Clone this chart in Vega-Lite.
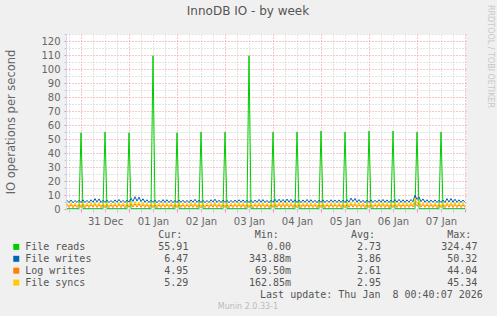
{
"$schema": "https://vega.github.io/schema/vega-lite/v6.json",
"background": "#F0F0F0",
"padding": {"left": 5, "top": 5, "right": 5, "bottom": 8},
"autosize": {"type": "pad"},
"config": {"view": {"stroke": null}, "font": "DejaVu Sans"},
"title": {"text": "RRDTOOL / TOBI OETIKER", "orient": "right", "anchor": "start", "frame": "bounds", "fontSize": 8, "fontWeight": "normal", "color": "#C8C8C8", "font": "DejaVu Sans", "offset": 3},
"bounds": "flush",
"spacing": 26,
"datasets": {
"io": [
{"t":"2025-12-30T17:00","r":0.2,"w":6.2,"l":3.1,"s":4.3},
{"t":"2025-12-30T18:00","r":0.3,"w":4.6,"l":1.0,"s":1.7},
{"t":"2025-12-30T19:00","r":0.2,"w":6.4,"l":3.3,"s":4.5},
{"t":"2025-12-30T20:00","r":0.3,"w":4.5,"l":0.9,"s":1.8},
{"t":"2025-12-30T21:00","r":0.2,"w":6.1,"l":3.0,"s":4.2},
{"t":"2025-12-30T22:00","r":0.3,"w":4.7,"l":1.1,"s":1.6},
{"t":"2025-12-30T23:00","r":0.2,"w":6.3,"l":3.2,"s":4.4},
{"t":"2025-12-31T00:00","r":54.5,"w":4.6,"l":1.0,"s":1.9},
{"t":"2025-12-31T01:00","r":0.2,"w":6.5,"l":3.4,"s":4.6},
{"t":"2025-12-31T02:00","r":0.3,"w":4.6,"l":0.9,"s":1.7},
{"t":"2025-12-31T03:00","r":0.2,"w":6.2,"l":3.1,"s":4.3},
{"t":"2025-12-31T04:00","r":0.3,"w":4.5,"l":1.0,"s":1.8},
{"t":"2025-12-31T05:00","r":0.2,"w":6.6,"l":3.2,"s":4.5},
{"t":"2025-12-31T06:00","r":0.3,"w":4.8,"l":1.2,"s":2.0},
{"t":"2025-12-31T07:00","r":0.2,"w":7.4,"l":3.5,"s":4.8},
{"t":"2025-12-31T08:00","r":0.3,"w":4.9,"l":1.1,"s":1.9},
{"t":"2025-12-31T09:00","r":0.2,"w":7.2,"l":3.3,"s":4.6},
{"t":"2025-12-31T10:00","r":0.3,"w":4.6,"l":1.0,"s":1.7},
{"t":"2025-12-31T11:00","r":0.2,"w":6.3,"l":3.1,"s":4.4},
{"t":"2025-12-31T12:00","r":55.0,"w":4.7,"l":0.9,"s":1.8},
{"t":"2025-12-31T13:00","r":0.2,"w":6.4,"l":3.2,"s":4.3},
{"t":"2025-12-31T14:00","r":0.3,"w":4.6,"l":1.0,"s":1.6},
{"t":"2025-12-31T15:00","r":0.2,"w":6.1,"l":3.0,"s":4.2},
{"t":"2025-12-31T16:00","r":0.3,"w":4.5,"l":0.9,"s":1.7},
{"t":"2025-12-31T17:00","r":0.2,"w":6.5,"l":3.3,"s":4.5},
{"t":"2025-12-31T18:00","r":0.3,"w":4.8,"l":1.1,"s":1.9},
{"t":"2025-12-31T19:00","r":0.2,"w":6.8,"l":3.4,"s":4.6},
{"t":"2025-12-31T20:00","r":0.3,"w":4.7,"l":1.0,"s":1.8},
{"t":"2025-12-31T21:00","r":0.2,"w":6.2,"l":3.1,"s":4.3},
{"t":"2025-12-31T22:00","r":0.3,"w":4.6,"l":0.9,"s":1.7},
{"t":"2025-12-31T23:00","r":0.2,"w":6.4,"l":3.2,"s":4.4},
{"t":"2026-01-01T00:00","r":54.5,"w":4.9,"l":1.2,"s":2.0},
{"t":"2026-01-01T01:00","r":0.2,"w":7.6,"l":3.6,"s":5.0},
{"t":"2026-01-01T02:00","r":0.3,"w":5.4,"l":1.4,"s":2.3},
{"t":"2026-01-01T03:00","r":0.2,"w":8.8,"l":3.8,"s":5.3},
{"t":"2026-01-01T04:00","r":0.3,"w":5.6,"l":1.3,"s":2.2},
{"t":"2026-01-01T05:00","r":0.2,"w":8.5,"l":3.7,"s":5.1},
{"t":"2026-01-01T06:00","r":0.3,"w":5.2,"l":1.2,"s":2.0},
{"t":"2026-01-01T07:00","r":0.2,"w":7.3,"l":3.4,"s":4.7},
{"t":"2026-01-01T08:00","r":0.3,"w":4.8,"l":1.0,"s":1.8},
{"t":"2026-01-01T09:00","r":0.2,"w":6.6,"l":3.2,"s":4.4},
{"t":"2026-01-01T10:00","r":0.3,"w":4.6,"l":0.9,"s":1.7},
{"t":"2026-01-01T11:00","r":0.2,"w":6.3,"l":3.1,"s":4.3},
{"t":"2026-01-01T12:00","r":109.5,"w":4.7,"l":1.0,"s":1.8},
{"t":"2026-01-01T13:00","r":0.2,"w":6.4,"l":3.2,"s":4.5},
{"t":"2026-01-01T14:00","r":0.3,"w":4.5,"l":0.9,"s":1.7},
{"t":"2026-01-01T15:00","r":0.2,"w":6.2,"l":3.1,"s":4.3},
{"t":"2026-01-01T16:00","r":0.3,"w":4.6,"l":1.0,"s":1.6},
{"t":"2026-01-01T17:00","r":0.2,"w":6.7,"l":3.3,"s":4.6},
{"t":"2026-01-01T18:00","r":0.3,"w":4.7,"l":1.1,"s":1.8},
{"t":"2026-01-01T19:00","r":0.2,"w":6.6,"l":3.2,"s":4.5},
{"t":"2026-01-01T20:00","r":0.3,"w":4.6,"l":1.0,"s":1.7},
{"t":"2026-01-01T21:00","r":0.2,"w":6.3,"l":3.0,"s":4.3},
{"t":"2026-01-01T22:00","r":0.3,"w":4.5,"l":0.9,"s":1.8},
{"t":"2026-01-01T23:00","r":0.2,"w":6.2,"l":3.1,"s":4.4},
{"t":"2026-01-02T00:00","r":54.5,"w":4.6,"l":1.0,"s":1.7},
{"t":"2026-01-02T01:00","r":0.2,"w":6.4,"l":3.2,"s":4.5},
{"t":"2026-01-02T02:00","r":0.3,"w":4.7,"l":1.1,"s":1.9},
{"t":"2026-01-02T03:00","r":0.2,"w":6.3,"l":3.1,"s":4.3},
{"t":"2026-01-02T04:00","r":0.3,"w":4.5,"l":0.9,"s":1.6},
{"t":"2026-01-02T05:00","r":0.2,"w":6.2,"l":3.0,"s":4.2},
{"t":"2026-01-02T06:00","r":0.3,"w":4.6,"l":1.0,"s":1.8},
{"t":"2026-01-02T07:00","r":0.2,"w":6.5,"l":3.3,"s":4.6},
{"t":"2026-01-02T08:00","r":0.3,"w":4.8,"l":1.1,"s":1.9},
{"t":"2026-01-02T09:00","r":0.2,"w":6.9,"l":3.4,"s":4.7},
{"t":"2026-01-02T10:00","r":0.3,"w":4.7,"l":1.0,"s":1.8},
{"t":"2026-01-02T11:00","r":0.2,"w":6.4,"l":3.2,"s":4.4},
{"t":"2026-01-02T12:00","r":55.0,"w":4.6,"l":0.9,"s":1.7},
{"t":"2026-01-02T13:00","r":0.2,"w":6.2,"l":3.1,"s":4.3},
{"t":"2026-01-02T14:00","r":0.3,"w":4.5,"l":1.0,"s":1.6},
{"t":"2026-01-02T15:00","r":0.2,"w":6.1,"l":3.0,"s":4.2},
{"t":"2026-01-02T16:00","r":0.3,"w":4.6,"l":0.9,"s":1.7},
{"t":"2026-01-02T17:00","r":0.2,"w":6.6,"l":3.2,"s":4.5},
{"t":"2026-01-02T18:00","r":0.3,"w":4.9,"l":1.2,"s":2.0},
{"t":"2026-01-02T19:00","r":0.2,"w":7.0,"l":3.4,"s":4.7},
{"t":"2026-01-02T20:00","r":0.3,"w":4.7,"l":1.0,"s":1.8},
{"t":"2026-01-02T21:00","r":0.2,"w":6.3,"l":3.1,"s":4.4},
{"t":"2026-01-02T22:00","r":0.3,"w":4.6,"l":1.0,"s":1.7},
{"t":"2026-01-02T23:00","r":0.2,"w":6.4,"l":3.2,"s":4.5},
{"t":"2026-01-03T00:00","r":55.0,"w":4.7,"l":1.0,"s":1.8},
{"t":"2026-01-03T01:00","r":0.2,"w":6.3,"l":3.1,"s":4.3},
{"t":"2026-01-03T02:00","r":0.3,"w":4.5,"l":0.9,"s":1.6},
{"t":"2026-01-03T03:00","r":0.2,"w":6.2,"l":3.0,"s":4.2},
{"t":"2026-01-03T04:00","r":0.3,"w":4.6,"l":1.0,"s":1.7},
{"t":"2026-01-03T05:00","r":0.2,"w":6.4,"l":3.2,"s":4.4},
{"t":"2026-01-03T06:00","r":0.3,"w":4.7,"l":1.1,"s":1.8},
{"t":"2026-01-03T07:00","r":0.2,"w":6.6,"l":3.3,"s":4.6},
{"t":"2026-01-03T08:00","r":0.3,"w":4.8,"l":1.0,"s":1.9},
{"t":"2026-01-03T09:00","r":0.2,"w":6.5,"l":3.2,"s":4.5},
{"t":"2026-01-03T10:00","r":0.3,"w":4.6,"l":0.9,"s":1.7},
{"t":"2026-01-03T11:00","r":0.2,"w":6.3,"l":3.1,"s":4.3},
{"t":"2026-01-03T12:00","r":109.5,"w":4.6,"l":1.0,"s":1.8},
{"t":"2026-01-03T13:00","r":0.2,"w":6.2,"l":3.0,"s":4.2},
{"t":"2026-01-03T14:00","r":0.3,"w":4.5,"l":0.9,"s":1.6},
{"t":"2026-01-03T15:00","r":0.2,"w":6.4,"l":3.2,"s":4.4},
{"t":"2026-01-03T16:00","r":0.3,"w":4.7,"l":1.0,"s":1.8},
{"t":"2026-01-03T17:00","r":0.2,"w":6.8,"l":3.4,"s":4.6},
{"t":"2026-01-03T18:00","r":0.3,"w":4.8,"l":1.1,"s":1.9},
{"t":"2026-01-03T19:00","r":0.2,"w":6.7,"l":3.3,"s":4.5},
{"t":"2026-01-03T20:00","r":0.3,"w":4.6,"l":1.0,"s":1.7},
{"t":"2026-01-03T21:00","r":0.2,"w":6.2,"l":3.1,"s":4.3},
{"t":"2026-01-03T22:00","r":0.3,"w":4.5,"l":0.9,"s":1.6},
{"t":"2026-01-03T23:00","r":0.2,"w":6.3,"l":3.2,"s":4.4},
{"t":"2026-01-04T00:00","r":55.0,"w":4.8,"l":1.1,"s":1.9},
{"t":"2026-01-04T01:00","r":0.2,"w":6.9,"l":3.4,"s":4.7},
{"t":"2026-01-04T02:00","r":0.3,"w":4.9,"l":1.2,"s":2.0},
{"t":"2026-01-04T03:00","r":0.2,"w":7.0,"l":3.5,"s":4.8},
{"t":"2026-01-04T04:00","r":0.3,"w":4.8,"l":1.1,"s":1.9},
{"t":"2026-01-04T05:00","r":0.2,"w":6.8,"l":3.3,"s":4.6},
{"t":"2026-01-04T06:00","r":0.3,"w":4.7,"l":1.0,"s":1.8},
{"t":"2026-01-04T07:00","r":0.2,"w":7.1,"l":3.4,"s":4.8},
{"t":"2026-01-04T08:00","r":0.3,"w":4.9,"l":1.1,"s":2.0},
{"t":"2026-01-04T09:00","r":0.2,"w":6.9,"l":3.3,"s":4.6},
{"t":"2026-01-04T10:00","r":0.3,"w":4.7,"l":1.0,"s":1.8},
{"t":"2026-01-04T11:00","r":0.2,"w":6.6,"l":3.2,"s":4.5},
{"t":"2026-01-04T12:00","r":55.0,"w":4.6,"l":0.9,"s":1.7},
{"t":"2026-01-04T13:00","r":0.2,"w":6.4,"l":3.1,"s":4.4},
{"t":"2026-01-04T14:00","r":0.3,"w":4.6,"l":1.0,"s":1.7},
{"t":"2026-01-04T15:00","r":0.2,"w":6.5,"l":3.2,"s":4.5},
{"t":"2026-01-04T16:00","r":0.3,"w":4.7,"l":1.0,"s":1.8},
{"t":"2026-01-04T17:00","r":0.2,"w":6.8,"l":3.3,"s":4.6},
{"t":"2026-01-04T18:00","r":0.3,"w":4.8,"l":1.1,"s":1.9},
{"t":"2026-01-04T19:00","r":0.2,"w":6.6,"l":3.2,"s":4.5},
{"t":"2026-01-04T20:00","r":0.3,"w":4.6,"l":1.0,"s":1.7},
{"t":"2026-01-04T21:00","r":0.2,"w":6.3,"l":3.1,"s":4.3},
{"t":"2026-01-04T22:00","r":0.3,"w":4.5,"l":0.9,"s":1.6},
{"t":"2026-01-04T23:00","r":0.2,"w":6.4,"l":3.2,"s":4.4},
{"t":"2026-01-05T00:00","r":55.7,"w":4.7,"l":1.0,"s":1.8},
{"t":"2026-01-05T01:00","r":0.2,"w":6.5,"l":3.2,"s":4.5},
{"t":"2026-01-05T02:00","r":0.3,"w":4.6,"l":0.9,"s":1.7},
{"t":"2026-01-05T03:00","r":0.2,"w":6.3,"l":3.1,"s":4.3},
{"t":"2026-01-05T04:00","r":0.3,"w":4.7,"l":1.0,"s":1.8},
{"t":"2026-01-05T05:00","r":0.2,"w":6.6,"l":3.3,"s":4.6},
{"t":"2026-01-05T06:00","r":0.3,"w":4.8,"l":1.1,"s":1.9},
{"t":"2026-01-05T07:00","r":0.2,"w":6.4,"l":3.2,"s":4.4},
{"t":"2026-01-05T08:00","r":0.3,"w":4.6,"l":1.0,"s":1.7},
{"t":"2026-01-05T09:00","r":0.2,"w":6.5,"l":3.2,"s":4.5},
{"t":"2026-01-05T10:00","r":0.3,"w":4.7,"l":1.0,"s":1.8},
{"t":"2026-01-05T11:00","r":0.2,"w":6.4,"l":3.1,"s":4.4},
{"t":"2026-01-05T12:00","r":55.0,"w":4.6,"l":0.9,"s":1.7},
{"t":"2026-01-05T13:00","r":0.2,"w":6.6,"l":3.3,"s":4.5},
{"t":"2026-01-05T14:00","r":0.3,"w":4.9,"l":1.2,"s":2.0},
{"t":"2026-01-05T15:00","r":0.2,"w":7.8,"l":3.6,"s":5.0},
{"t":"2026-01-05T16:00","r":0.3,"w":5.2,"l":1.3,"s":2.2},
{"t":"2026-01-05T17:00","r":0.2,"w":7.6,"l":3.5,"s":4.9},
{"t":"2026-01-05T18:00","r":0.3,"w":4.8,"l":1.1,"s":1.9},
{"t":"2026-01-05T19:00","r":0.2,"w":6.7,"l":3.3,"s":4.6},
{"t":"2026-01-05T20:00","r":0.3,"w":4.6,"l":1.0,"s":1.7},
{"t":"2026-01-05T21:00","r":0.2,"w":6.3,"l":3.1,"s":4.3},
{"t":"2026-01-05T22:00","r":0.3,"w":4.5,"l":0.9,"s":1.6},
{"t":"2026-01-05T23:00","r":0.2,"w":6.4,"l":3.2,"s":4.4},
{"t":"2026-01-06T00:00","r":55.7,"w":4.7,"l":1.0,"s":1.8},
{"t":"2026-01-06T01:00","r":0.2,"w":6.5,"l":3.2,"s":4.5},
{"t":"2026-01-06T02:00","r":0.3,"w":4.6,"l":1.0,"s":1.7},
{"t":"2026-01-06T03:00","r":0.2,"w":6.3,"l":3.1,"s":4.3},
{"t":"2026-01-06T04:00","r":0.3,"w":4.7,"l":1.0,"s":1.8},
{"t":"2026-01-06T05:00","r":0.2,"w":6.6,"l":3.3,"s":4.6},
{"t":"2026-01-06T06:00","r":0.3,"w":4.8,"l":1.1,"s":1.9},
{"t":"2026-01-06T07:00","r":0.2,"w":6.8,"l":3.4,"s":4.7},
{"t":"2026-01-06T08:00","r":0.3,"w":4.7,"l":1.0,"s":1.8},
{"t":"2026-01-06T09:00","r":0.2,"w":6.5,"l":3.2,"s":4.5},
{"t":"2026-01-06T10:00","r":0.3,"w":4.6,"l":0.9,"s":1.7},
{"t":"2026-01-06T11:00","r":0.2,"w":6.4,"l":3.2,"s":4.4},
{"t":"2026-01-06T12:00","r":55.7,"w":4.7,"l":1.0,"s":1.8},
{"t":"2026-01-06T13:00","r":0.2,"w":6.7,"l":3.3,"s":4.6},
{"t":"2026-01-06T14:00","r":0.3,"w":4.8,"l":1.1,"s":1.9},
{"t":"2026-01-06T15:00","r":0.2,"w":6.9,"l":3.4,"s":4.7},
{"t":"2026-01-06T16:00","r":0.3,"w":4.7,"l":1.0,"s":1.8},
{"t":"2026-01-06T17:00","r":0.2,"w":6.6,"l":3.2,"s":4.5},
{"t":"2026-01-06T18:00","r":0.3,"w":4.6,"l":1.0,"s":1.7},
{"t":"2026-01-06T19:00","r":0.2,"w":6.5,"l":3.2,"s":4.4},
{"t":"2026-01-06T20:00","r":0.3,"w":4.8,"l":1.1,"s":1.9},
{"t":"2026-01-06T21:00","r":0.2,"w":6.8,"l":3.3,"s":4.6},
{"t":"2026-01-06T22:00","r":0.3,"w":5.1,"l":1.4,"s":2.3},
{"t":"2026-01-06T23:00","r":0.2,"w":9.9,"l":4.2,"s":7.8},
{"t":"2026-01-07T00:00","r":55.0,"w":6.8,"l":2.2,"s":4.0},
{"t":"2026-01-07T01:00","r":0.2,"w":8.6,"l":3.9,"s":5.8},
{"t":"2026-01-07T02:00","r":0.3,"w":5.2,"l":1.3,"s":2.1},
{"t":"2026-01-07T03:00","r":0.2,"w":7.2,"l":3.4,"s":4.7},
{"t":"2026-01-07T04:00","r":0.3,"w":4.8,"l":1.1,"s":1.9},
{"t":"2026-01-07T05:00","r":0.2,"w":6.6,"l":3.2,"s":4.5},
{"t":"2026-01-07T06:00","r":0.3,"w":4.6,"l":1.0,"s":1.7},
{"t":"2026-01-07T07:00","r":0.2,"w":6.4,"l":3.1,"s":4.3},
{"t":"2026-01-07T08:00","r":0.3,"w":4.7,"l":1.0,"s":1.8},
{"t":"2026-01-07T09:00","r":0.2,"w":6.5,"l":3.2,"s":4.5},
{"t":"2026-01-07T10:00","r":0.3,"w":4.6,"l":0.9,"s":1.7},
{"t":"2026-01-07T11:00","r":0.2,"w":6.3,"l":3.1,"s":4.3},
{"t":"2026-01-07T12:00","r":55.0,"w":4.7,"l":1.0,"s":1.8},
{"t":"2026-01-07T13:00","r":0.2,"w":6.4,"l":3.2,"s":4.4},
{"t":"2026-01-07T14:00","r":0.3,"w":4.6,"l":1.0,"s":1.7},
{"t":"2026-01-07T15:00","r":0.2,"w":7.4,"l":3.5,"s":4.8},
{"t":"2026-01-07T16:00","r":0.3,"w":4.9,"l":1.2,"s":2.0},
{"t":"2026-01-07T17:00","r":0.2,"w":7.5,"l":3.5,"s":4.9},
{"t":"2026-01-07T18:00","r":0.3,"w":4.8,"l":1.1,"s":1.9},
{"t":"2026-01-07T19:00","r":0.2,"w":7.0,"l":3.4,"s":4.7},
{"t":"2026-01-07T20:00","r":0.3,"w":4.7,"l":1.0,"s":1.8},
{"t":"2026-01-07T21:00","r":0.2,"w":6.6,"l":3.2,"s":4.5},
{"t":"2026-01-07T22:00","r":0.3,"w":4.6,"l":1.0,"s":1.7},
{"t":"2026-01-07T23:00","r":0.2,"w":6.4,"l":3.1,"s":4.4},
{"t":"2026-01-08T00:00","r":0.3,"w":4.7,"l":1.0,"s":1.8}
],
"stats": [
{"name":"File reads","cur":"55.91","min":"0.00","avg":"2.73","max":"324.47"},
{"name":"File writes","cur":"6.47","min":"343.88m","avg":"3.86","max":"50.32"},
{"name":"Log writes","cur":"4.95","min":"69.50m","avg":"2.61","max":"44.04"},
{"name":"File syncs","cur":"5.29","min":"162.85m","avg":"2.95","max":"45.34"}
],
"heads": [
{"k":"cur","h":"Cur:"},{"k":"min","h":"Min:"},{"k":"avg","h":"Avg:"},{"k":"max","h":"Max:"}
],
"upd": [{"u":"Last update: Thu Jan\u00a0\u00a08 00:40:07 2026"}]
},
"vconcat": [
{
"width": 400,
"height": 175,
"view": {"fill": "#FFFFFF", "stroke": null},
"title": {"text": "InnoDB IO - by week", "frame": "group", "anchor": "middle", "dx": -18, "fontSize": 12, "fontWeight": "normal", "color": "#555555", "font": "DejaVu Sans", "offset": 11},
"data": {"name": "io"},
"transform": [{"fold": ["r", "w", "l", "s"], "as": ["k", "v"]}],
"encoding": {
  "x": {"field": "t", "type": "temporal",
   "scale": {"domain": [{"year": 2025, "month": 12, "date": 30, "hours": 16, "minutes": 30}, {"year": 2026, "month": 1, "date": 8, "hours": 0, "minutes": 30}], "nice": false},
   "axis": {"title": null, "tickCount": 34,
    "labelExpr": "hours(datum.value) == 12 ? timeFormat(datum.value, '%d %b') : ''",
    "labelOverlap": false, "labelFlush": false,
    "grid": true, "gridDash": [1, 2],
    "gridColor": {"condition": {"test": "hours(datum.value) == 0", "value": "#F09090"}, "value": "#C8C8C8"},
    "tickColor": {"condition": {"test": "hours(datum.value) == 0", "value": "#F09090"}, "value": "#C8C8C8"},
    "tickSize": 3, "domainColor": "#CFD6F8",
    "labelFont": "DejaVu Sans", "labelFontSize": 10, "labelColor": "#666666", "labelPadding": 4}},
  "y": {"field": "v", "type": "quantitative",
   "scale": {"domain": [0, 125], "nice": false},
   "axis": {"title": "IO operations per second", "titleFont": "DejaVu Sans", "titleFontSize": 11.5, "titleFontWeight": "normal", "titleColor": "#666666", "titlePadding": 24,
    "values": [0,5,10,15,20,25,30,35,40,45,50,55,60,65,70,75,80,85,90,95,100,105,110,115,120,125],
    "labelExpr": "datum.value % 10 == 0 ? datum.label : ''",
    "labelOverlap": false,
    "grid": true, "gridDash": [1, 2],
    "gridColor": {"condition": {"test": "datum.value % 10 == 0", "value": "#F09090"}, "value": "#C8C8C8"},
    "tickColor": {"condition": {"test": "datum.value % 10 == 0", "value": "#F09090"}, "value": "#C8C8C8"},
    "tickSize": 2, "domainColor": "#CFD6F8",
    "labelFont": "DejaVu Sans", "labelFontSize": 10, "labelColor": "#666666", "labelPadding": 4}}
},
"layer": [
{"transform": [{"filter": "datum.k == 'r'"}], "mark": {"type": "line", "color": "#00CC00", "strokeWidth": 1, "clip": true}},
{"transform": [{"filter": "datum.k == 'w'"}], "mark": {"type": "line", "color": "#0066B3", "strokeWidth": 1, "clip": true}},
{"transform": [{"filter": "datum.k == 'l'"}], "mark": {"type": "line", "color": "#FF8000", "strokeWidth": 1, "clip": true}},
{"transform": [{"filter": "datum.k == 's'"}], "mark": {"type": "line", "color": "#FFCC00", "strokeWidth": 1, "clip": true}}
]
},
{
"width": 400,
"height": 59.5,
"title": {"text": "Munin 2.0.33-1", "orient": "bottom", "frame": "group", "anchor": "middle", "dx": -18, "fontSize": 8, "fontWeight": "normal", "color": "#BBBBBB", "font": "DejaVu Sans", "offset": 3},
"layer": [
{"data": {"name": "stats"},
 "mark": {"type": "point", "shape": "square", "filled": true, "size": 36, "opacity": 1, "xOffset": -75.8},
 "encoding": {
  "x": {"datum": "label", "type": "nominal", "scale": {"type": "point", "domain": ["label", "cur", "min", "avg", "max"], "range": [26.07, 411.4], "padding": 0}, "axis": null},
  "y": {"field": "name", "type": "nominal", "scale": {"type": "point", "domain": ["hdr", "File reads", "File writes", "Log writes", "File syncs", "upd"], "padding": 0}, "axis": null},
  "color": {"field": "name", "type": "nominal", "scale": {"domain": ["File reads", "File writes", "Log writes", "File syncs"], "range": ["#00CC00", "#0066B3", "#FF8000", "#FFCC00"]}, "legend": null}
 }},
{"data": {"name": "stats"},
 "mark": {"type": "text", "align": "left", "baseline": "middle", "dx": -66.9, "font": "DejaVu Sans Mono", "fontSize": 10, "color": "#555555"},
 "encoding": {"x": {"datum": "label", "type": "nominal"}, "y": {"field": "name", "type": "nominal"}, "text": {"field": "name"}}},
{"data": {"name": "stats"},
 "mark": {"type": "text", "align": "right", "baseline": "middle", "font": "DejaVu Sans Mono", "fontSize": 10, "color": "#555555"},
 "encoding": {"x": {"datum": "cur", "type": "nominal"}, "y": {"field": "name", "type": "nominal"}, "text": {"field": "cur"}}},
{"data": {"name": "stats"},
 "mark": {"type": "text", "align": "right", "baseline": "middle", "dx": 6.4, "font": "DejaVu Sans Mono", "fontSize": 10, "color": "#555555"},
 "encoding": {"x": {"datum": "min", "type": "nominal"}, "y": {"field": "name", "type": "nominal"}, "text": {"field": "min"}}},
{"data": {"name": "stats"},
 "mark": {"type": "text", "align": "right", "baseline": "middle", "font": "DejaVu Sans Mono", "fontSize": 10, "color": "#555555"},
 "encoding": {"x": {"datum": "avg", "type": "nominal"}, "y": {"field": "name", "type": "nominal"}, "text": {"field": "avg"}}},
{"data": {"name": "stats"},
 "mark": {"type": "text", "align": "right", "baseline": "middle", "font": "DejaVu Sans Mono", "fontSize": 10, "color": "#555555"},
 "encoding": {"x": {"datum": "max", "type": "nominal"}, "y": {"field": "name", "type": "nominal"}, "text": {"field": "max"}}},
{"data": {"name": "heads"},
 "mark": {"type": "text", "align": "right", "baseline": "middle", "dx": -6, "font": "DejaVu Sans Mono", "fontSize": 10, "color": "#555555"},
 "encoding": {"x": {"field": "k", "type": "nominal"}, "y": {"datum": "hdr", "type": "nominal"}, "text": {"field": "h"}}},
{"data": {"name": "upd"},
 "mark": {"type": "text", "align": "right", "baseline": "middle", "dx": 5.4, "font": "DejaVu Sans Mono", "fontSize": 10, "color": "#555555"},
 "encoding": {"x": {"datum": "max", "type": "nominal"}, "y": {"datum": "upd", "type": "nominal"}, "text": {"field": "u"}}}
]
}
]
}
